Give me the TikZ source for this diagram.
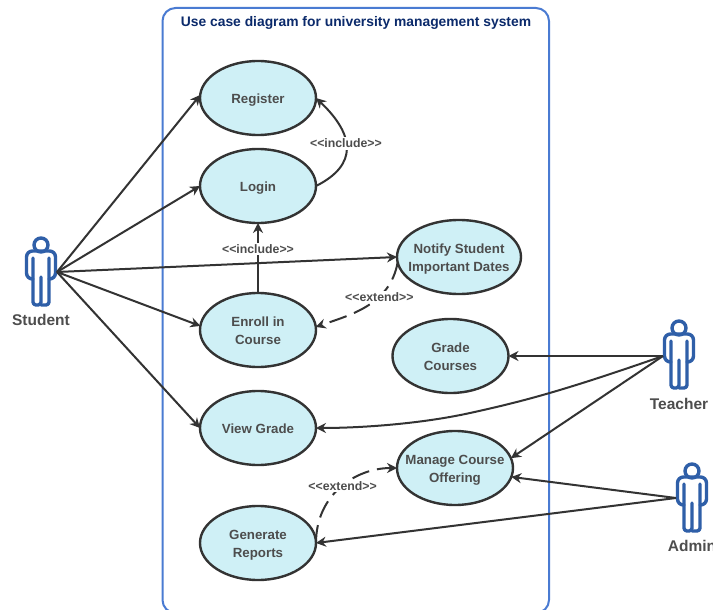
\documentclass[tikz,border=0pt]{standalone}
\usepackage{fontspec}
\setmainfont{Liberation Sans}
\usetikzlibrary{arrows.meta,shapes.geometric}
\definecolor{ucfill}{HTML}{CFF0F6}
\definecolor{ucline}{HTML}{333333}
\definecolor{uctext}{HTML}{4D4D4D}
\definecolor{frameblue}{HTML}{4A7BD2}
\definecolor{actorblue}{HTML}{2F5FA8}
\definecolor{titlenavy}{HTML}{0B2A6B}
\newcommand{\casetext}[1]{\makebox[0pt][c]{\raisebox{-5.4pt}[0pt][0pt]{\begin{tabular}{@{}c@{}}#1\end{tabular}}}}
\tikzset{
  x=1pt,y=-1pt,
  usecase/.style={ellipse,draw=ucline,fill=ucfill,line width=2.4pt,inner sep=0pt,outer sep=0pt,
    minimum width=116pt,minimum height=74pt,text=uctext,
    font=\bfseries\fontsize{13.3}{17.5}\selectfont},
  link/.style={draw=ucline,line width=2pt,-{Stealth[length=10pt,width=10pt]}},
  dashlink/.style={link,dash pattern=on 18pt off 8pt},
  stereo/.style={fill=white,inner sep=1.5pt,text=uctext,font=\bfseries\fontsize{12.3}{14}\selectfont},
  actorname/.style={text=uctext,inner sep=0pt,font=\bfseries\fontsize{15.5}{18}\selectfont},
  anchorpt/.style={coordinate},
  pics/actorfig/.style={code={
    \draw[actorblue,line width=3.4pt,line join=round,line cap=round]
      (0,-27) circle[radius=7];
    \draw[actorblue,line width=3.4pt,line join=round,line cap=round,rounded corners=3pt]
      (-8,-14) -- (-8,33) -- (0,33) -- (0,5);
    \draw[actorblue,line width=3.4pt,line join=round,line cap=round,rounded corners=3pt]
      (0,33) -- (8,33) -- (8,-14);
    \draw[actorblue,line width=3.4pt,line join=round,line cap=round,rounded corners=6pt]
      (-8,7) -- (-14.5,7) -- (-14.5,-21) -- (14.5,-21) -- (14.5,7) -- (8,7);
  }}
}
\begin{document}
\begin{tikzpicture}
\clip (0,0) rectangle (713,610);
\fill[white] (0,0) rectangle (713,610);
\draw[frameblue,line width=2pt,rounded corners=13pt] (162.5,8) rectangle (549,613);
\node[text=titlenavy,inner sep=0pt,font=\bfseries\fontsize{13.85}{17}\selectfont] (title) at (356,22.5) {Use case diagram for university management system};

\node[usecase] (register) at (258,98) {\casetext{Register}};
\node[usecase] (login) at (258,186) {\casetext{Login}};
\node[usecase] (enroll) at (258,330) {\casetext{Enroll in\\Course}};
\node[usecase] (viewgrade) at (258,428) {\casetext{View Grade}};
\node[usecase] (reports) at (258,543) {\casetext{Generate\\Reports}};
\node[usecase,minimum width=124pt] (notify) at (459,257) {\casetext{Notify Student\\Important Dates}};
\node[usecase] (gradec) at (450.5,356) {\casetext{Grade\\Courses}};
\node[usecase] (manage) at (455,468) {\casetext{Manage Course\\Offering}};

\pic at (41,272) {actorfig};
\pic at (679,355) {actorfig};
\pic at (692,498) {actorfig};
\node[anchorpt] (student) at (57,272) {};
\node[anchorpt] (teacher) at (663,356) {};
\node[anchorpt] (admin) at (676,498) {};
\node[actorname] (studentname) at (41,320) {Student};
\node[actorname] (teachername) at (679,404) {Teacher};
\node[actorname] (adminname) at (692,546) {Admin};

\draw[link] (student) -- (register.177);
\draw[link] (student) -- (login.west);
\draw[link] (student) -- (notify.west);
\draw[link] (student) -- (enroll.176);
\draw[link] (student) -- (viewgrade.west);

\draw[link] (teacher) -- (gradec.east);
\draw[link] (teacher) .. controls (560,392) and (520,402) .. (470,413) .. controls (420,424) and (360,428) .. (viewgrade.east);
\draw[link] (teacher) -- (manage.10);
\draw[link] (admin) -- (manage.-9);
\draw[link] (admin) -- (reports.east);

\draw[link] (login.east) .. controls (358,165) and (355,135) .. (register.east) node[pos=.55,stereo] (inc1) {<{}<include>{}>};
\draw[link] (enroll.north) -- (login.south) node[pos=.63,stereo] (inc2) {<{}<include>{}>};
\draw[dashlink] (notify.185) .. controls (390,305) and (350,315) .. (enroll.3) node[pos=.35,stereo] (ext1) {<{}<extend>{}>};
\draw[dashlink] (reports.east) .. controls (316,495) and (355,468) .. (manage.west) node[pos=.52,stereo] (ext2) {<{}<extend>{}>};
\end{tikzpicture}
\end{document}
